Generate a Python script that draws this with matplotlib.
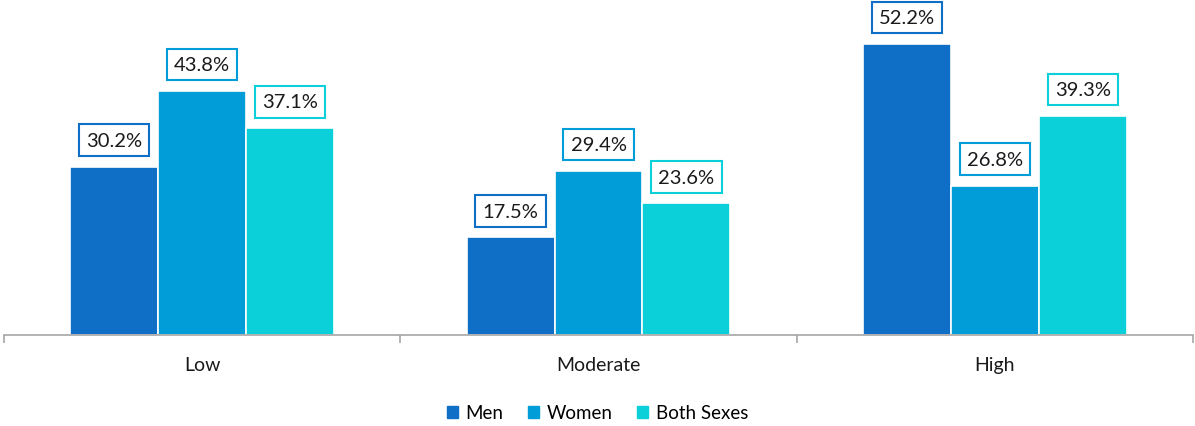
import numpy as np
import matplotlib.pyplot as plt
from matplotlib.patches import Patch

# ------------------------------------------------------------
# Data
categories = ["Low", "Moderate", "High"]
series_names = ["Men", "Women", "Both Sexes"]
men = [30.2, 17.5, 52.2]
women = [43.8, 29.4, 26.8]
both = [37.1, 23.6, 39.3]
colors = ["#0F6FC6", "#009DD9", "#0BD0D9"]

plt.rcParams['font.family'] = ['Lato', 'DejaVu Sans']

# ------------------------------------------------------------
# Plot
fig = plt.figure(figsize=(11.95, 4.27), dpi=100)
ax = fig.add_axes([4 / 1195, 91 / 427, 1189 / 1195, 1 - 15 / 427 - 91 / 427])

x = np.arange(len(categories))
width = 0.222
offsets = [-width, 0, width]

for vals, off, col in zip([men, women, both], offsets, colors):
    bars = ax.bar(x + off, vals, width, color=col, edgecolor='white', linewidth=1.2)
    for b, v in zip(bars, vals):
        ax.annotate(f"{v:.1f}%", (b.get_x() + b.get_width() / 2, v),
                    xytext=(0, 19), textcoords='offset points',
                    ha='center', va='center', fontsize=14.5, color='#1a1a1a',
                    bbox=dict(boxstyle='square,pad=0.36', fc='white', ec=col, lw=1.5))

ax.set_xlim(-0.5, 2.5)
ax.set_ylim(0, (336 - 15) / 5.575)

for s in ['top', 'right', 'left']:
    ax.spines[s].set_visible(False)
ax.spines['bottom'].set_color('#A6A6A6')
ax.spines['bottom'].set_linewidth(1.2)
ax.set_yticks([])

ax.set_xticks([-0.5, 0.5, 1.5, 2.5])
ax.set_xticklabels([])
ax.tick_params(axis='x', which='major', length=6, color='#A6A6A6', width=1.2)
ax.set_xticks(x, minor=True)
ax.set_xticklabels(categories, minor=True, fontsize=14, color='#1a1a1a')
ax.tick_params(axis='x', which='minor', length=0, pad=15)

handles = [Patch(color=c) for c in colors]
fig.legend(handles, series_names, loc='center', bbox_to_anchor=(0.5, 0.031),
           ncol=3, frameon=False, fontsize=13.5, handlelength=0.6, handleheight=0.6,
           handletextpad=0.4, columnspacing=1.3)

plt.savefig("out.png", dpi=100)
